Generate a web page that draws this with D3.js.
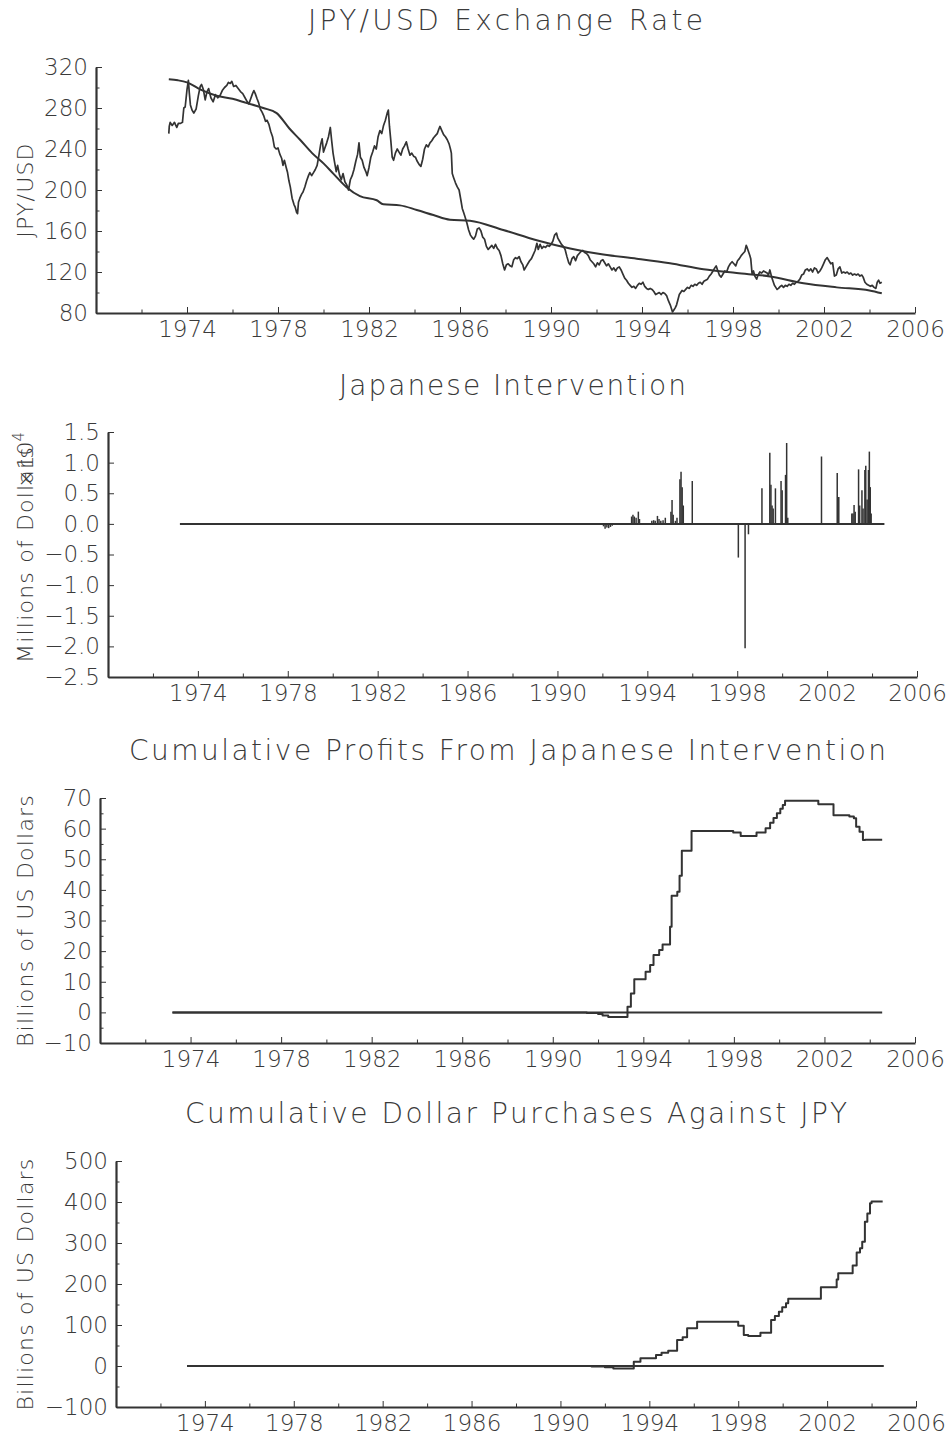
<!DOCTYPE html>
<html>
<head>
<meta charset="utf-8">
<script src="https://cdn.jsdelivr.net/npm/d3@7"></script>
<style>
body { margin: 0; background: #fff; }
text { font-family: "DejaVu Sans", sans-serif; font-weight: 200; fill: #3a3a3a; }
</style>
</head>
<body>
<div id="graph"></div>
<script>
// x axis ticks (years)
const xMajorTicks = [1974, 1978, 1982, 1986, 1990, 1994, 1998, 2002, 2006]
const xMinorTicks = [1972, 1976, 1980, 1984, 1988, 1992, 1996, 2000, 2004]

// panel 1: JPY/USD rate (daily) and smooth trend
const rateYears = [1973.20, 1973.22, 1973.26, 1973.35, 1973.45, 1973.55, 1973.62, 1973.72, 1973.80, 1973.86, 1973.92, 1974.00, 1974.06, 1974.10, 1974.15, 1974.22, 1974.30, 1974.40, 1974.50, 1974.58, 1974.64, 1974.72, 1974.80, 1974.88, 1974.95, 1975.05, 1975.15, 1975.25, 1975.35, 1975.45, 1975.55, 1975.65, 1975.75, 1975.82, 1975.90, 1975.97, 1976.05, 1976.15, 1976.25, 1976.35, 1976.45, 1976.55, 1976.65, 1976.72, 1976.80, 1976.88, 1976.94, 1977.00, 1977.08, 1977.15, 1977.22, 1977.30, 1977.38, 1977.45, 1977.52, 1977.60, 1977.68, 1977.76, 1977.84, 1977.92, 1978.00, 1978.08, 1978.16, 1978.22, 1978.28, 1978.36, 1978.42, 1978.48, 1978.54, 1978.62, 1978.70, 1978.76, 1978.82, 1978.86, 1978.90, 1978.96, 1979.04, 1979.10, 1979.18, 1979.26, 1979.34, 1979.40, 1979.48, 1979.56, 1979.64, 1979.72, 1979.80, 1979.88, 1979.94, 1980.00, 1980.06, 1980.14, 1980.22, 1980.30, 1980.36, 1980.42, 1980.48, 1980.56, 1980.62, 1980.70, 1980.78, 1980.86, 1980.94, 1981.02, 1981.10, 1981.18, 1981.26, 1981.34, 1981.42, 1981.50, 1981.56, 1981.62, 1981.70, 1981.78, 1981.86, 1981.92, 1982.00, 1982.08, 1982.16, 1982.24, 1982.32, 1982.40, 1982.48, 1982.56, 1982.64, 1982.72, 1982.80, 1982.85, 1982.90, 1982.96, 1983.02, 1983.08, 1983.16, 1983.24, 1983.32, 1983.40, 1983.48, 1983.56, 1983.64, 1983.72, 1983.80, 1983.88, 1983.96, 1984.04, 1984.12, 1984.20, 1984.28, 1984.36, 1984.44, 1984.52, 1984.60, 1984.68, 1984.76, 1984.84, 1984.92, 1985.00, 1985.08, 1985.12, 1985.20, 1985.28, 1985.36, 1985.44, 1985.52, 1985.58, 1985.62, 1985.66, 1985.72, 1985.80, 1985.88, 1985.96, 1986.04, 1986.10, 1986.16, 1986.22, 1986.30, 1986.38, 1986.46, 1986.52, 1986.60, 1986.68, 1986.76, 1986.84, 1986.92, 1987.00, 1987.08, 1987.16, 1987.24, 1987.32, 1987.40, 1987.48, 1987.56, 1987.64, 1987.72, 1987.80, 1987.88, 1987.96, 1988.04, 1988.12, 1988.20, 1988.28, 1988.36, 1988.44, 1988.52, 1988.60, 1988.68, 1988.76, 1988.82, 1988.90, 1988.98, 1989.06, 1989.14, 1989.22, 1989.30, 1989.38, 1989.44, 1989.52, 1989.60, 1989.68, 1989.76, 1989.84, 1989.92, 1990.00, 1990.08, 1990.16, 1990.24, 1990.30, 1990.38, 1990.46, 1990.54, 1990.62, 1990.70, 1990.78, 1990.84, 1990.92, 1991.00, 1991.08, 1991.16, 1991.24, 1991.32, 1991.40, 1991.48, 1991.56, 1991.64, 1991.72, 1991.80, 1991.88, 1991.96, 1992.04, 1992.12, 1992.20, 1992.28, 1992.36, 1992.44, 1992.52, 1992.60, 1992.68, 1992.76, 1992.84, 1992.92, 1993.00, 1993.08, 1993.16, 1993.24, 1993.32, 1993.40, 1993.48, 1993.56, 1993.64, 1993.72, 1993.80, 1993.88, 1993.96, 1994.04, 1994.12, 1994.20, 1994.28, 1994.36, 1994.44, 1994.52, 1994.60, 1994.68, 1994.76, 1994.84, 1994.92, 1995.00, 1995.08, 1995.16, 1995.24, 1995.30, 1995.34, 1995.40, 1995.46, 1995.52, 1995.58, 1995.64, 1995.70, 1995.76, 1995.84, 1995.92, 1996.00, 1996.08, 1996.16, 1996.24, 1996.32, 1996.40, 1996.48, 1996.56, 1996.64, 1996.72, 1996.80, 1996.88, 1996.96, 1997.04, 1997.12, 1997.20, 1997.26, 1997.32, 1997.40, 1997.48, 1997.56, 1997.64, 1997.72, 1997.80, 1997.88, 1997.96, 1998.04, 1998.12, 1998.20, 1998.28, 1998.36, 1998.44, 1998.52, 1998.58, 1998.62, 1998.68, 1998.74, 1998.78, 1998.84, 1998.90, 1998.96, 1999.04, 1999.10, 1999.18, 1999.26, 1999.34, 1999.42, 1999.50, 1999.56, 1999.62, 1999.70, 1999.76, 1999.82, 1999.88, 1999.94, 2000.00, 2000.08, 2000.14, 2000.22, 2000.30, 2000.38, 2000.46, 2000.54, 2000.62, 2000.70, 2000.78, 2000.86, 2000.94, 2001.02, 2001.10, 2001.18, 2001.26, 2001.34, 2001.42, 2001.50, 2001.58, 2001.66, 2001.74, 2001.82, 2001.90, 2001.98, 2002.06, 2002.14, 2002.22, 2002.30, 2002.38, 2002.46, 2002.54, 2002.62, 2002.70, 2002.78, 2002.86, 2002.94, 2003.02, 2003.10, 2003.18, 2003.26, 2003.34, 2003.42, 2003.50, 2003.58, 2003.66, 2003.72, 2003.80, 2003.88, 2003.96, 2004.04, 2004.12, 2004.20, 2004.28, 2004.34, 2004.40, 2004.46, 2004.54]
const rateValues = [255, 262, 266, 263, 266, 261, 265, 265, 266, 280, 281, 298, 307, 295, 283, 278, 275, 279, 292, 301, 303, 298, 288, 296, 299, 290, 286, 293, 290, 292, 297, 300, 302, 305, 304, 306, 301, 302, 299, 296, 294, 290, 286, 284, 289, 294, 297, 294, 289, 285, 279, 276, 272, 267, 268, 264, 257, 252, 242, 240, 241, 235, 231, 224, 229, 222, 217, 209, 203, 192, 186, 183, 178, 177, 188, 192, 196, 198, 203, 209, 214, 217, 214, 217, 220, 224, 234, 245, 250, 237, 241, 246, 252, 261, 248, 236, 228, 218, 224, 215, 210, 216, 208, 205, 200, 210, 214, 220, 228, 235, 246, 232, 229, 222, 218, 214, 222, 232, 237, 243, 240, 252, 258, 255, 263, 268, 275, 278, 262, 248, 232, 229, 236, 240, 237, 234, 240, 243, 247, 240, 234, 236, 233, 232, 228, 225, 223, 230, 240, 244, 242, 246, 248, 251, 253, 255, 260, 262, 258, 254, 252, 249, 245, 240, 236, 216, 212, 207, 203, 200, 190, 182, 178, 174, 168, 161, 156, 154, 152, 155, 162, 163, 160, 154, 152, 145, 142, 144, 146, 143, 147, 143, 141, 136, 128, 122, 127, 128, 126, 125, 132, 134, 133, 135, 130, 127, 122, 125, 128, 131, 133, 137, 141, 148, 142, 147, 143, 145, 144, 146, 145, 147, 150, 156, 158, 153, 150, 147, 145, 142, 135, 129, 127, 133, 135, 131, 136, 138, 140, 141, 139, 138, 136, 132, 130, 128, 125, 129, 127, 131, 132, 129, 126, 128, 125, 122, 124, 121, 124, 125, 122, 118, 114, 112, 109, 107, 105, 106, 104, 107, 109, 108, 110, 106, 104, 103, 104, 103, 101, 98, 99, 100, 98, 100, 99, 97, 92, 88, 84, 81, 83, 85, 88, 93, 98, 100, 102, 101, 103, 105, 104, 107, 106, 108, 107, 109, 110, 108, 111, 112, 113, 116, 118, 121, 124, 126, 122, 117, 115, 118, 121, 120, 125, 128, 130, 128, 126, 131, 133, 136, 138, 140, 146, 144, 140, 136, 133, 118, 121, 116, 113, 117, 120, 119, 121, 120, 119, 117, 122, 115, 111, 107, 105, 103, 104, 106, 107, 105, 107, 106, 108, 107, 109, 108, 110, 111, 113, 117, 118, 122, 123, 121, 123, 120, 124, 123, 119, 121, 124, 128, 132, 134, 131, 128, 129, 116, 117, 123, 125, 119, 120, 119, 120, 118, 119, 117, 118, 117, 118, 116, 117, 115, 110, 108, 107, 106, 107, 105, 104, 110, 112, 109, 110]
const trendYears = [1973.2, 1973.6, 1974.0, 1974.6, 1975.3, 1976.0, 1976.6, 1977.35, 1977.94, 1978.5, 1978.97, 1979.5, 1980.0, 1980.43, 1981.0, 1981.6, 1982.34, 1982.63, 1983.36, 1984.1, 1984.83, 1985.56, 1986.44, 1987.9, 1989.37, 1990.84, 1992.3, 1993.77, 1995.23, 1996.7, 1998.16, 1999.63, 2001.1, 2002.56, 2004.0, 2004.54]
const trendValues = [308, 307, 305, 298, 292, 289, 285, 280, 275, 260, 249, 236, 226, 216, 203, 194, 190, 186, 185, 180.5, 175.6, 171, 170, 161, 151, 143, 137, 133, 128.5, 122.6, 119, 115.7, 109, 105, 102, 99.2]

// panel 2: intervention spikes (x 10^4 millions of dollars)
const interventionYears = [1991.9, 1992.05, 1992.12, 1992.2, 1992.28, 1992.36, 1992.44, 1993.3, 1993.36, 1993.42, 1993.5, 1993.6, 1993.65, 1994.2, 1994.28, 1994.35, 1994.45, 1994.52, 1994.6, 1994.7, 1994.8, 1995.05, 1995.1, 1995.15, 1995.25, 1995.32, 1995.45, 1995.5, 1995.55, 1995.6, 1996.0, 1998.05, 1998.35, 1998.5, 1999.1, 1999.45, 1999.5, 1999.55, 1999.6, 1999.7, 1999.95, 2000.0, 2000.15, 2000.2, 2000.25, 2001.75, 2002.45, 2002.48, 2002.52, 2003.1, 2003.15, 2003.2, 2003.25, 2003.4, 2003.45, 2003.55, 2003.6, 2003.68, 2003.72, 2003.78, 2003.84, 2003.88, 2003.92, 2003.96]
const interventionValues = [-0.02, -0.04, -0.08, -0.06, -0.07, -0.05, -0.03, 0.12, 0.15, 0.12, 0.1, 0.2, 0.08, 0.05, 0.06, 0.05, 0.13, 0.08, 0.05, 0.06, 0.1, 0.2, 0.39, 0.15, 0.05, 0.1, 0.73, 0.85, 0.6, 0.3, 0.7, -0.55, -2.03, -0.17, 0.58, 1.16, 0.64, 0.3, 0.25, 0.58, 0.7, 0.55, 0.8, 1.32, 0.1, 1.1, 0.83, 0.44, 0.44, 0.17, 0.17, 0.31, 0.2, 0.89, 0.3, 0.55, 0.25, 0.88, 0.95, 0.4, 0.88, 1.18, 0.6, 0.17]

// panel 3: cumulative profits (billions), step changes
const profitYears = [1973.2, 1991.5, 1992.0, 1992.2, 1992.45, 1993.3, 1993.45, 1993.6, 1994.1, 1994.3, 1994.45, 1994.7, 1994.85, 1995.18, 1995.25, 1995.5, 1995.6, 1995.7, 1996.13, 1997.97, 1998.3, 1999.0, 1999.4, 1999.6, 1999.75, 1999.9, 2000.05, 2000.16, 2000.26, 2001.73, 2002.4, 2003.1, 2003.3, 2003.4, 2003.55, 2003.7, 2003.8, 2004.55]
const profitValues = [0, -0.2, -0.5, -1.0, -1.5, 1.8, 6.2, 10.8, 13.3, 15.5, 18.7, 20.4, 22.2, 28, 38.1, 39.4, 44.6, 52.8, 59.2, 58.7, 57.6, 58.7, 60.1, 61.9, 63.5, 65, 66.5, 67.7, 69.1, 68, 64.4, 64, 63.4, 60.6, 59, 56.3, 56.4, 56.4]

// panel 4: cumulative dollar purchases (billions), step changes
const purchaseYears = [1973.2, 1991.4, 1992.0, 1992.38, 1993.3, 1993.6, 1994.3, 1994.55, 1994.85, 1995.25, 1995.5, 1995.7, 1996.15, 1998.0, 1998.25, 1998.45, 1999.0, 1999.48, 1999.65, 1999.83, 1999.98, 2000.15, 2000.25, 2001.72, 2002.43, 2002.5, 2003.15, 2003.33, 2003.48, 2003.58, 2003.7, 2003.81, 2003.93, 2004.0, 2004.5]
const purchaseValues = [0, -1, -3, -6, 10.5, 18.7, 26.8, 32.5, 37.4, 63.4, 70, 91.9, 108, 98.3, 75.6, 73, 81.3, 112, 122, 132.5, 143, 153, 164, 192, 211, 226, 245, 277, 287, 303, 352, 372, 397, 401, 401]

// zero reference lines
const zeroYears = [1973.2, 2004.55]
const zeroValues = [0, 0]

// y ticks
const rateTicks = [80, 120, 160, 200, 240, 280, 320]
const rateMinor = [100, 140, 180, 220, 260, 300]
const intTicks = [-2.5, -2.0, -1.5, -1.0, -0.5, 0.0, 0.5, 1.0, 1.5]
const profitTicks = [-10, 0, 10, 20, 30, 40, 50, 60, 70]
const profitMinor = [-5, 5, 15, 25, 35, 45, 55, 65]
const purchaseTicks = [-100, 0, 100, 200, 300, 400, 500]
const purchaseMinor = [-50, 50, 150, 250, 350, 450]

const ink = "#333"

const svg = d3.select("#graph")
    .append("svg")
    .attr("width", 948)
    .attr("height", 1435)

svg.append("rect").attr("width", 948).attr("height", 1435).attr("fill", "#fff")

const panels = [
    { title: "JPY/USD Exchange Rate", titleW: 395, ylab: "JPY/USD", left: 96, right: 915, top: 67, bottom: 313, titleY: 30, dom: [80, 320], ticks: rateTicks, minor: rateMinor, fmt: d3.format("d") },
    { title: "Japanese Intervention", titleW: 347, ylab: "Millions of Dollars", left: 108, right: 917, top: 432, bottom: 677, titleY: 395, dom: [-2.5, 1.5], ticks: intTicks, minor: [], fmt: d3.format(".1f") },
    { title: "Cumulative Profits From Japanese Intervention", titleW: 757, ylab: "Billions of US Dollars", left: 100, right: 915, top: 798, bottom: 1043, titleY: 760, dom: [-10, 70], ticks: profitTicks, minor: profitMinor, fmt: d3.format("d") },
    { title: "Cumulative Dollar Purchases Against JPY", titleW: 662, ylab: "Billions of US Dollars", left: 116, right: 916, top: 1161, bottom: 1407, titleY: 1123, dom: [-100, 500], ticks: purchaseTicks, minor: purchaseMinor, fmt: d3.format("d") }
]

function styleAxis(g) {
    g.select(".domain").attr("stroke", ink).attr("stroke-width", 2.2)
    g.selectAll(".tick line").attr("stroke", ink).attr("stroke-width", 1)
    g.selectAll("text")
        .attr("font-family", null)
        .attr("font-size", 23)
        .attr("fill", "#3a3a3a")
}

function drawPanel(p) {
    const x = d3.scaleLinear().domain([1970, 2006]).range([p.left, p.right])
    const y = d3.scaleLinear().domain(p.dom).range([p.bottom, p.top])

    // minor ticks first so the axis line sits on top
    svg.append("g")
        .attr("transform", `translate(0,${p.bottom})`)
        .call(d3.axisBottom(x).tickValues(xMinorTicks).tickSize(-3.5).tickSizeOuter(0).tickFormat(""))
        .call(g => g.select(".domain").remove())
        .call(styleAxis)
    if (p.minor.length) {
        svg.append("g")
            .attr("transform", `translate(${p.left},0)`)
            .call(d3.axisLeft(y).tickValues(p.minor).tickSize(-3.5).tickSizeOuter(0).tickFormat(""))
            .call(g => g.select(".domain").remove())
            .call(styleAxis)
    }

    svg.append("g") //x-axis
        .attr("transform", `translate(0,${p.bottom})`)
        .call(d3.axisBottom(x).tickValues(xMajorTicks).tickSize(-6).tickSizeOuter(0).tickPadding(8).tickFormat(d3.format("d")))
        .call(styleAxis)

    svg.append("g") //y-axis
        .attr("transform", `translate(${p.left},0)`)
        .call(d3.axisLeft(y).tickValues(p.ticks).tickSize(-6).tickSizeOuter(0).tickPadding(8).tickFormat(p.fmt))
        .call(styleAxis)

    svg.append("text") //title, stretched to the source width
        .attr("x", (p.left + p.right) / 2)
        .attr("y", p.titleY)
        .attr("text-anchor", "middle")
        .attr("font-size", 28)
        .attr("textLength", p.titleW)
        .attr("lengthAdjust", "spacing")
        .text(p.title)

    svg.append("text") //y label
        .attr("transform", `translate(33,${(p.top + p.bottom) / 2}) rotate(-90)`)
        .attr("text-anchor", "middle")
        .attr("font-size", 22)
        .attr("letter-spacing", 1.2)
        .text(p.ylab)

    return { x, y }
}

const lineOf = (x, y, curve) => d3.line().x(d => x(d[0])).y(d => y(d[1])).curve(curve)
const zip = (a, b) => a.map((v, i) => [v, b[i]])

function path(data, gen, w) {
    svg.append("path")
        .datum(data)
        .attr("d", gen)
        .attr("fill", "none")
        .attr("stroke", ink)
        .attr("stroke-width", w)
        .attr("stroke-linejoin", "round")
}

// panel 1
const s1 = drawPanel(panels[0])
path(zip(trendYears, trendValues), lineOf(s1.x, s1.y, d3.curveMonotoneX), 2)
path(zip(rateYears, rateValues), lineOf(s1.x, s1.y, d3.curveLinear), 1.7)

// panel 2
const s2 = drawPanel(panels[1])
svg.append("text") //exponent that overlaps the label, as in the source
    .attr("transform", `translate(33,${panels[1].top}) rotate(-90)`)
    .attr("text-anchor", "end")
    .attr("font-size", 22)
    .text("×10")
    .append("tspan")
    .attr("dy", -9)
    .attr("font-size", 15)
    .text("4")
path(zip(zeroYears, zeroValues), lineOf(s2.x, s2.y, d3.curveLinear), 2)
svg.selectAll(".spike")
    .data(zip(interventionYears, interventionValues))
    .enter()
    .append("line")
    .attr("class", "spike")
    .attr("x1", d => s2.x(d[0]))
    .attr("x2", d => s2.x(d[0]))
    .attr("y1", s2.y(0))
    .attr("y2", d => s2.y(d[1]))
    .attr("stroke", ink)
    .attr("stroke-width", 1.5)

// panel 3
const s3 = drawPanel(panels[2])
path(zip(zeroYears, zeroValues), lineOf(s3.x, s3.y, d3.curveLinear), 2)
path(zip(profitYears, profitValues), lineOf(s3.x, s3.y, d3.curveStepAfter), 2)

// panel 4
const s4 = drawPanel(panels[3])
path(zip(zeroYears, zeroValues), lineOf(s4.x, s4.y, d3.curveLinear), 2)
path(zip(purchaseYears, purchaseValues), lineOf(s4.x, s4.y, d3.curveStepAfter), 2)
</script>
</body>
</html>
